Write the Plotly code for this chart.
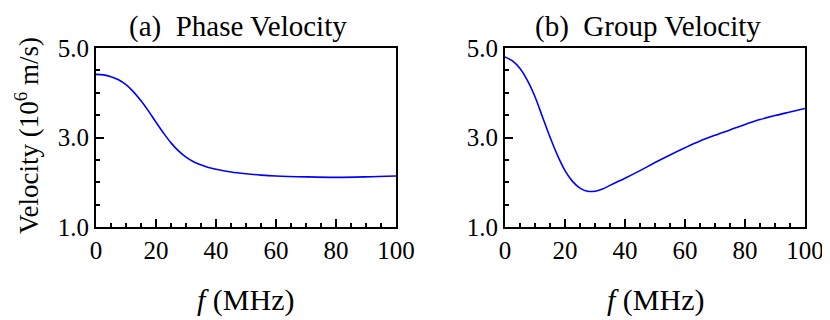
import plotly.graph_objects as go

# frequency (MHz) and velocities (10^6 m/s)
f_phase = [0, 2.5, 5, 7.5, 10, 12.5, 15, 17.5, 20, 22.5, 25, 27.5, 30, 32.5, 35, 37.5, 40, 45, 50, 55, 60, 70, 80, 90, 100]
v_phase = [4.41, 4.40, 4.36, 4.29, 4.18, 4.02, 3.82, 3.59, 3.34, 3.10, 2.88, 2.70, 2.56, 2.46, 2.39, 2.33, 2.29,
           2.23, 2.19, 2.16, 2.14, 2.12, 2.11, 2.12, 2.14]

f_group = [0, 2.5, 5, 7.5, 10, 12.5, 15, 17.5, 20, 22.5, 25, 27.5, 30, 32.5, 35, 37.5, 40, 45, 50, 55, 60, 65,
           70, 75, 80, 85, 90, 95, 100]
v_group = [4.80, 4.71, 4.54, 4.27, 3.91, 3.46, 3.01, 2.60, 2.26, 2.02, 1.87, 1.80, 1.80, 1.85, 1.93, 2.01, 2.09,
           2.26, 2.44, 2.61, 2.77, 2.92, 3.05, 3.17, 3.29, 3.40, 3.49, 3.57, 3.65]

x_ticks = [0, 20, 40, 60, 80, 100]
y_ticks = [1.0, 3.0, 5.0]
panel_titles = ["(a)  Phase Velocity", "(b)  Group Velocity"]

FONT = "Liberation Serif, Times New Roman, serif"
BLUE = "#0000ff"

fig = go.Figure()
fig.add_trace(go.Scatter(x=f_phase, y=v_phase, mode="lines", line=dict(color=BLUE, width=1.6, shape="spline"),
                         xaxis="x", yaxis="y", showlegend=False))
fig.add_trace(go.Scatter(x=f_group, y=v_group, mode="lines", line=dict(color=BLUE, width=1.6, shape="spline"),
                         xaxis="x2", yaxis="y2", showlegend=False))

# the page body adds an 8px offset, so the figure is 8px smaller and positions are shifted
OFF = 8
W, H = 830 - OFF, 320 - OFF
# plot boxes in window pixels (left, right, top, bottom)
boxes = [(96, 396, 48, 227), (505, 805, 48, 227)]
title_x = [238, 648]


def px(x):
    return (x - OFF) / W


def py(y):
    return 1 - (y - OFF) / H


def xaxis_cfg(b, anchor):
    return dict(domain=[px(b[0]), px(b[1])], anchor=anchor, range=[0, 100], automargin=False,
                tickvals=x_ticks, ticks="inside", ticklen=8, tickwidth=2, tickcolor="black",
                minor=dict(dtick=5, ticks="inside", ticklen=4, tickwidth=2, tickcolor="black"),
                showline=True, linewidth=2, linecolor="black", mirror=True,
                showgrid=False, zeroline=False, tickfont=dict(family=FONT, size=25, color="black"))


def yaxis_cfg(b, anchor):
    return dict(domain=[py(b[3]), py(b[2])], anchor=anchor, range=[1, 5], automargin=False,
                tickvals=y_ticks, tickformat=".1f", ticks="inside", ticklen=8, tickwidth=2, tickcolor="black",
                minor=dict(dtick=0.5, tick0=1, ticks="inside", ticklen=4, tickwidth=2, tickcolor="black"),
                showline=True, linewidth=2, linecolor="black", mirror=True,
                showgrid=False, zeroline=False, tickfont=dict(family=FONT, size=25, color="black"))


fig.update_layout(
    width=W, height=H, margin=dict(l=0, r=0, t=0, b=0, autoexpand=False),
    paper_bgcolor="white", plot_bgcolor="white",
    xaxis=xaxis_cfg(boxes[0], "y"), yaxis=yaxis_cfg(boxes[0], "x"),
    xaxis2=xaxis_cfg(boxes[1], "y2"), yaxis2=yaxis_cfg(boxes[1], "x2"),
)

annotations = []
for b, t, tx in zip(boxes, panel_titles, title_x):
    cx = px((b[0] + b[1]) / 2)
    annotations.append(dict(text=t, x=px(tx), y=py(9), xref="paper", yref="paper",
                            xanchor="center", yanchor="top", showarrow=False, borderpad=0,
                            font=dict(family=FONT, size=29, color="black")))
    annotations.append(dict(text="<i>f</i> (MHz)", x=cx, y=py(300), xref="paper", yref="paper",
                            xanchor="center", yanchor="middle", showarrow=False,
                            font=dict(family=FONT, size=30, color="black")))
annotations.append(dict(text="Velocity (10<sup>6</sup> m/s)", x=px(9), y=py(136), xref="paper", yref="paper",
                        xanchor="left", yanchor="middle", textangle=-90, showarrow=False, borderpad=0,
                        font=dict(family=FONT, size=27, color="black")))
fig.update_layout(annotations=annotations)

fig.write_html("out.html")
